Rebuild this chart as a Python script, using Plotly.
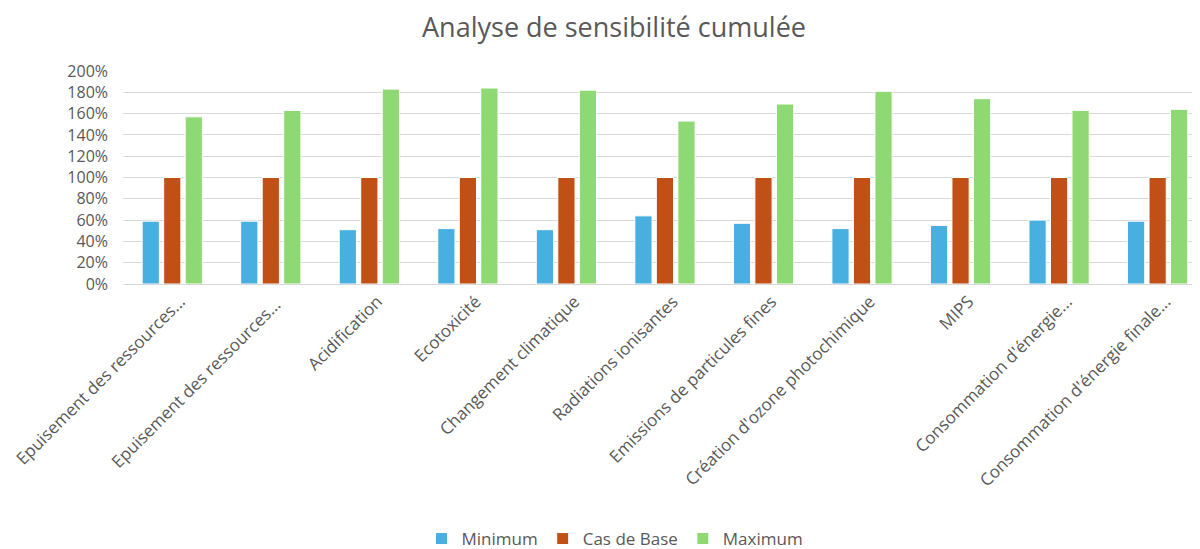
import plotly.graph_objects as go

categories = [
    "Epuisement des ressources...",
    "Epuisement des ressources... ",
    "Acidification",
    "Ecotoxicité",
    "Changement climatique",
    "Radiations ionisantes",
    "Emissions de particules fines",
    "Création d'ozone photochimique",
    "MIPS",
    "Consommation d'énergie...",
    "Consommation d'énergie finale...",
]
minimum = [59, 59, 51, 52, 51, 64, 57, 52, 55, 60, 59]
cas_de_base = [100, 100, 100, 100, 100, 100, 100, 100, 100, 100, 100]
maximum = [157, 163, 183, 184, 182, 153, 169, 181, 174, 163, 164]
y_ticks = [0, 20, 40, 60, 80, 100, 120, 140, 160, 180, 200]
y_tick_labels = [f"{v}%" for v in y_ticks]

grey = "#595959"
font_family = "Open Sans, Noto Sans, sans-serif"

# page body has an 8px margin, so the figure is drawn 8px right/down
W, H = 1192, 541

fig = go.Figure()
for name, vals, color in [
    ("Minimum", minimum, "#48b0e0"),
    ("Cas de Base", cas_de_base, "#c05016"),
    ("Maximum", maximum, "#8fd974"),
]:
    fig.add_trace(go.Bar(
        name=name, x=list(range(len(categories))), y=vals,
        marker=dict(color=color, line=dict(color="white", width=1)),
    ))

fig.update_layout(
    width=W, height=H,
    margin=dict(l=115, r=0, t=63, b=265, autoexpand=False),
    paper_bgcolor="white", plot_bgcolor="white",
    barmode="group", bargap=0.345, bargroupgap=0.2,
    font=dict(family=font_family, color=grey),
    title=dict(text="Analyse de sensibilité cumulée", x=606 / W, xanchor="center",
               xref="container", y=1 - 20 / H, yanchor="middle", yref="container",
               font=dict(size=27, color=grey, family=font_family)),
    legend=dict(orientation="h", x=607 / W, xanchor="center", xref="container",
                y=1 - 531 / H, yanchor="middle", yref="container",
                font=dict(size=17, color=grey), traceorder="normal"),
    showlegend=True,
)
fig.update_xaxes(
    tickmode="array", tickvals=list(range(len(categories))), ticktext=categories,
    tickangle=-45, tickfont=dict(size=17, color=grey), ticklabeloverflow="allow",
    ticklabelshift=8,
    range=[-0.5, 10.43], showgrid=False, showline=True, linecolor="#d9d9d9",
    linewidth=1, ticks="", automargin=False,
)
fig.update_yaxes(
    range=[0, 200], tickmode="array", tickvals=y_ticks, ticktext=y_tick_labels,
    tickfont=dict(size=16, color=grey), showgrid=True, gridcolor="#d9d9d9",
    gridwidth=1, zeroline=False, showline=False, ticks="", ticklabelstandoff=14,
    automargin=False,
)

fig.write_html("out.html")
